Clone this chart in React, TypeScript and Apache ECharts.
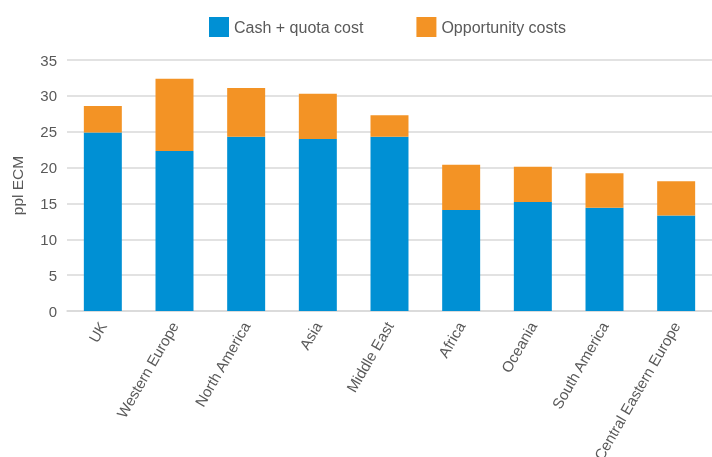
import React, { useEffect, useRef } from "react";
import * as echarts from "echarts";

const categories = ["UK", "Western Europe", "North America", "Asia", "Middle East", "Africa", "Oceania", "South America", "Central Eastern Europe"];
const cashQuota = [24.9, 22.3, 24.3, 24.0, 24.3, 14.1, 15.2, 14.4, 13.3];
const opportunity = [3.7, 10.1, 6.8, 6.3, 3.0, 6.3, 4.9, 4.8, 4.8];
const yTicks = { min: 0, max: 35, interval: 5 };

export default function App() {
  const ref = useRef<HTMLDivElement>(null);
  useEffect(() => {
    if (!ref.current) return;
    const chart = echarts.init(ref.current, null, { renderer: "svg" });
    const font = "'Liberation Sans', Arial, Helvetica, sans-serif";
    chart.setOption({
      animation: false,
      textStyle: { fontFamily: font },
      legend: {
        top: 17,
        left: 209,
        padding: 0,
        itemWidth: 20,
        itemHeight: 20,
        itemGap: 53,
        icon: "rect",
        textStyle: { fontSize: 16, color: "#595959", fontFamily: font },
        data: ["Cash + quota cost", "Opportunity costs"],
      },
      grid: { left: 67, right: 0, top: 60, bottom: 146, containLabel: false, outerBoundsMode: "none" },
      xAxis: {
        type: "category",
        data: categories,
        axisLine: { lineStyle: { color: "#d9d9d9", width: 1.5 } },
        axisTick: { show: false },
        axisLabel: { rotate: 60, fontSize: 15, color: "#595959", fontFamily: font, interval: 0, margin: 12 },
      },
      yAxis: {
        type: "value",
        min: yTicks.min,
        max: yTicks.max,
        interval: yTicks.interval,
        name: "ppl ECM",
        nameLocation: "middle",
        nameGap: 42,
        nameTextStyle: { fontSize: 15.5, color: "#595959", fontFamily: font },
        axisLine: { show: false },
        axisTick: { show: false },
        axisLabel: { fontSize: 15, color: "#595959", fontFamily: font, margin: 10 },
        splitLine: { lineStyle: { color: "#d9d9d9", width: 1.5 } },
      },
      series: [
        {
          name: "Cash + quota cost",
          type: "bar",
          stack: "total",
          barWidth: "53%",
          data: cashQuota,
          itemStyle: { color: "#0090d4" },
        },
        {
          name: "Opportunity costs",
          type: "bar",
          stack: "total",
          barWidth: "53%",
          data: opportunity,
          itemStyle: { color: "#f39325" },
        },
      ],
    });
    return () => chart.dispose();
  }, []);
  return <div ref={ref} style={{ width: 712, height: 457, position: "fixed", left: 0, top: 0 }} />;
}
